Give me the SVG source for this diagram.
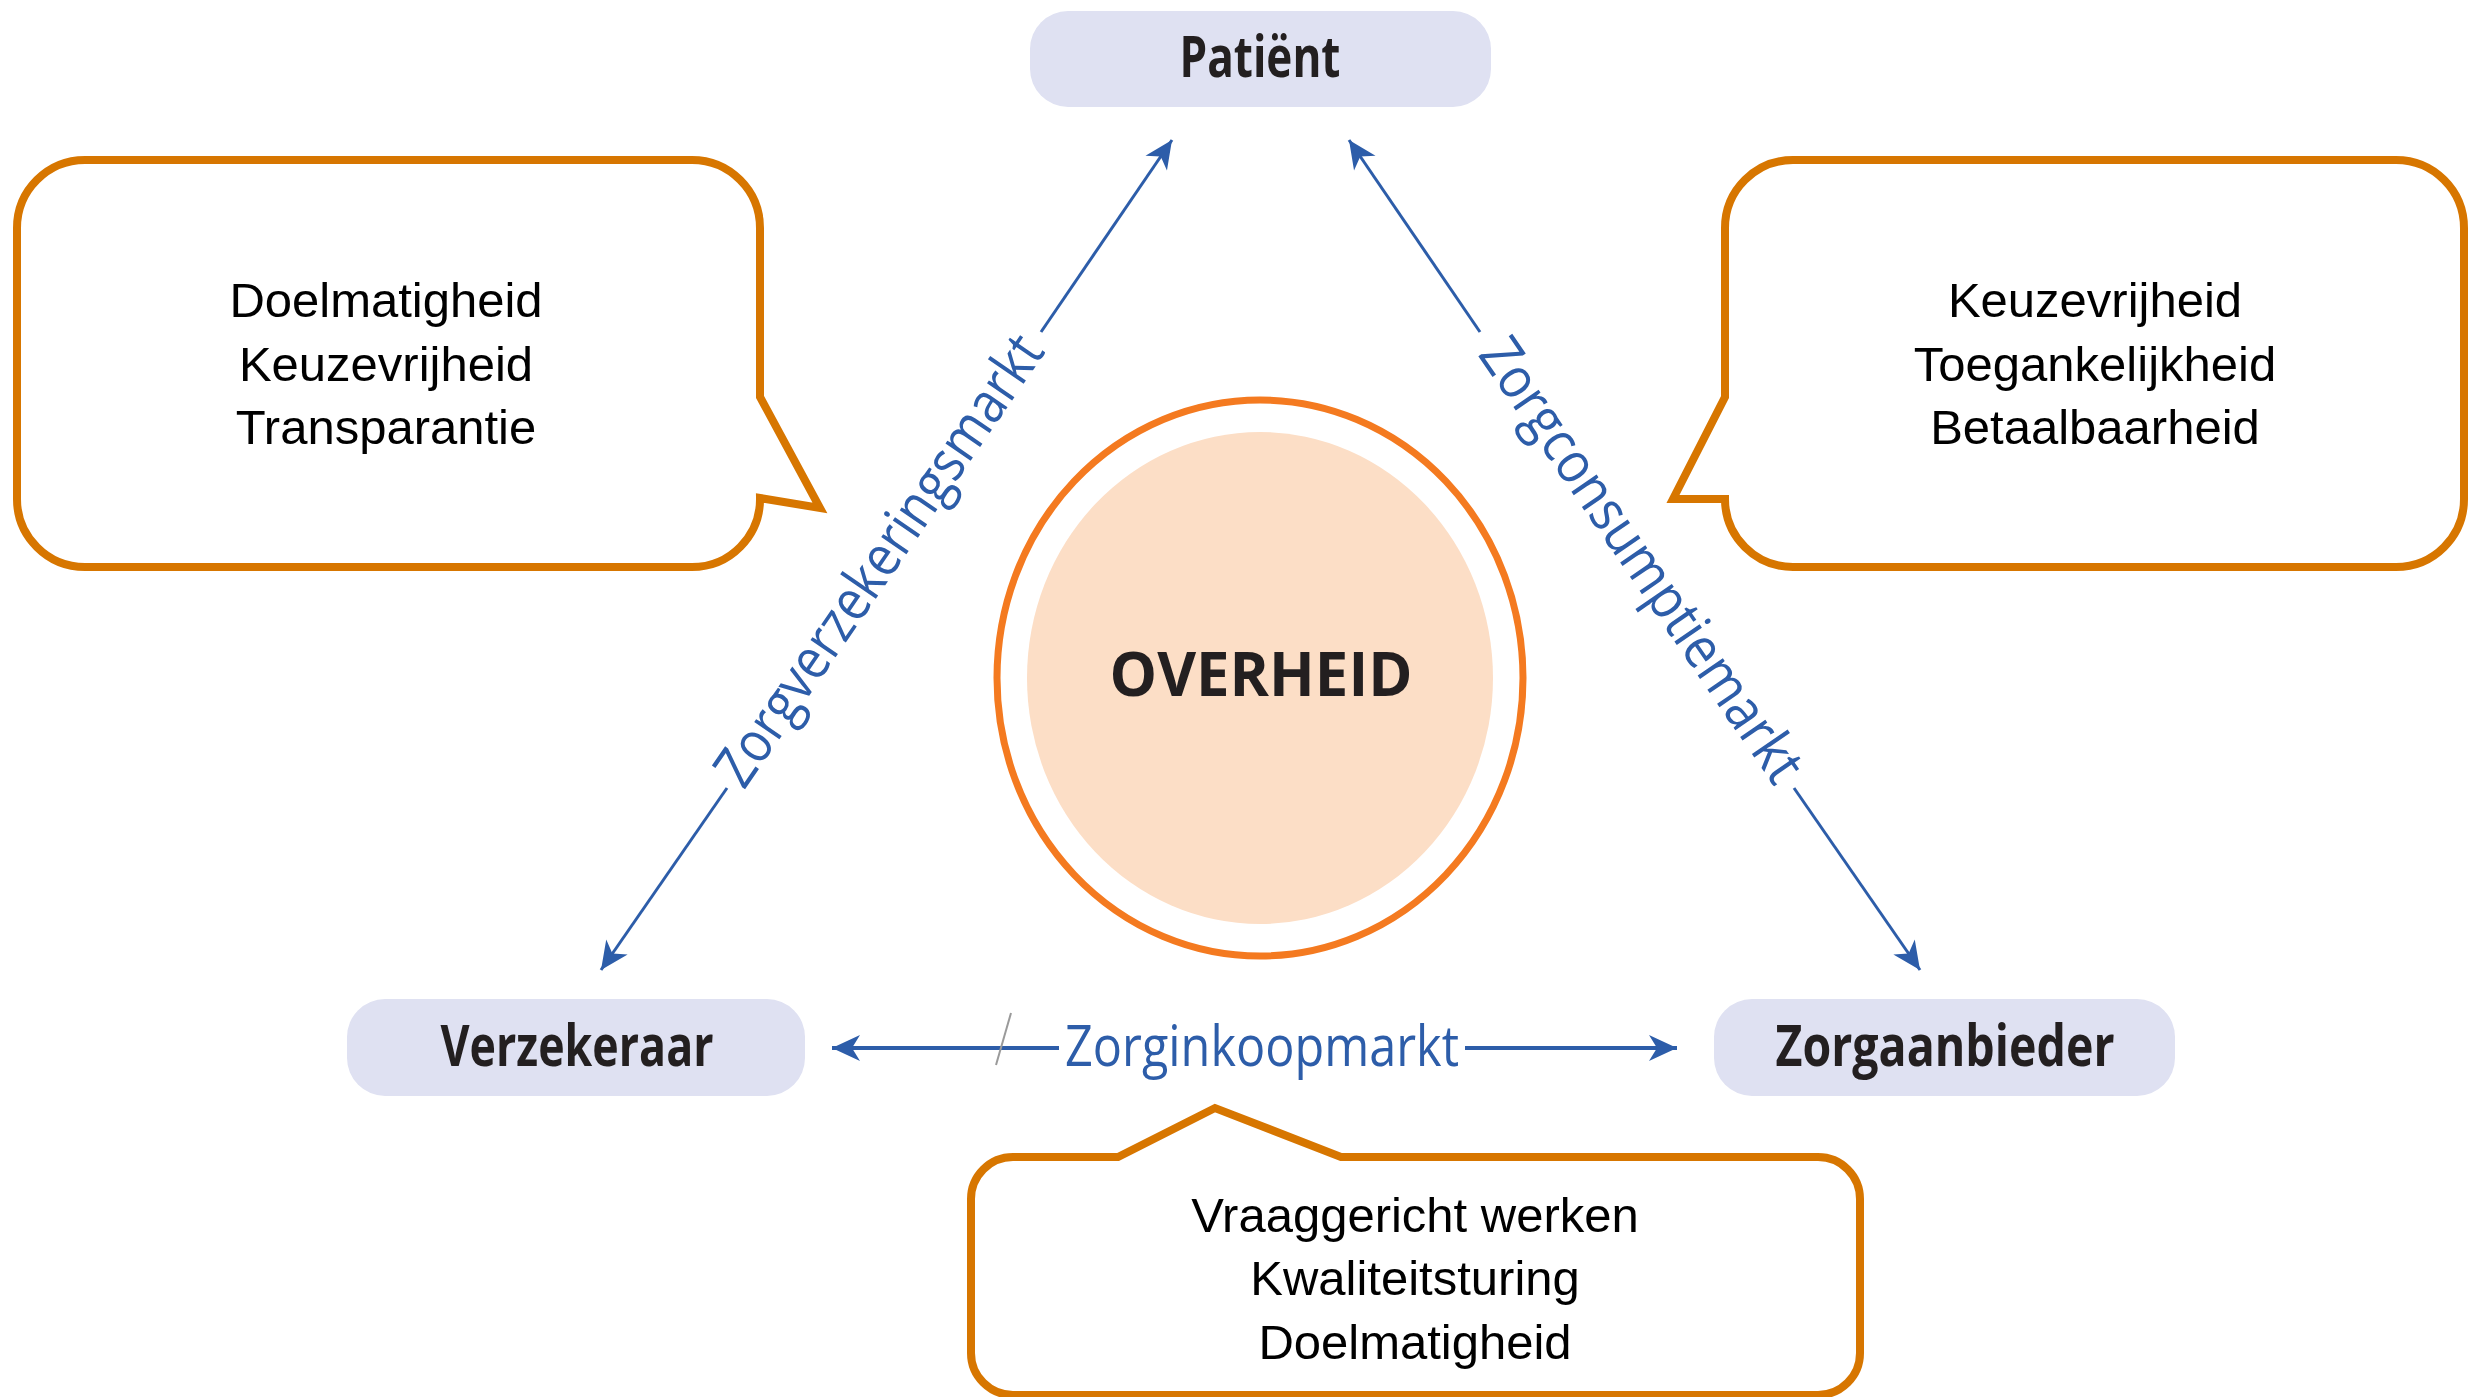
<svg xmlns="http://www.w3.org/2000/svg" width="2481" height="1397" viewBox="0 0 2481 1397">
<style>
.callout{fill:#fff;stroke:#D77600;stroke-width:8;stroke-linejoin:miter}
.ctext{font-family:"Liberation Sans",Arial,sans-serif;font-size:49px;fill:#000;text-anchor:middle}
.node{fill:#DFE1F2}
.ntext{font-family:"Open Sans","Liberation Sans",sans-serif;font-weight:bold;font-size:58px;fill:#231F20;text-anchor:middle}
.conn{stroke:#2D5DA9;fill:none}
.ltext{font-family:"Open Sans","Liberation Sans",sans-serif;font-size:57px;fill:#2D5DA9;text-anchor:middle}
</style>
<defs>
<marker id="ah" viewBox="-30 -15 32 30" refX="0" refY="0" markerWidth="32" markerHeight="30" markerUnits="userSpaceOnUse" orient="auto">
<path d="M0,0 L-28,-13 L-20,0 L-28,13 Z" fill="#2D5DA9"/>
</marker>
</defs>
<rect width="2481" height="1397" fill="#fff"/>

<g id="callout-left">
<path class="callout" d="M85,160 H692 A68 68 0 0 1 760 228 V397 L820 508 L760 498 A68 68 0 0 1 692 567 H85 A68 68 0 0 1 17 499 V228 A68 68 0 0 1 85 160 Z"/>
<text class="ctext" x="386" y="317">Doelmatigheid</text>
<text class="ctext" x="386" y="381">Keuzevrijheid</text>
<text class="ctext" x="386" y="444">Transparantie</text>
</g>

<g id="callout-right">
<path class="callout" d="M1793,160 H2396 A68 68 0 0 1 2464 228 V499 A68 68 0 0 1 2396 567 H1793 A68 68 0 0 1 1725 499 L1673 499 L1725 397 V228 A68 68 0 0 1 1793 160 Z"/>
<text class="ctext" x="2095" y="317">Keuzevrijheid</text>
<text class="ctext" x="2095" y="381">Toegankelijkheid</text>
<text class="ctext" x="2095" y="444">Betaalbaarheid</text>
</g>

<g id="callout-bottom">
<path class="callout" d="M1013,1157 H1118 L1215 1108 L1341 1157 H1818 A42 42 0 0 1 1860 1199 V1353 A42 42 0 0 1 1818 1395 H1013 A42 42 0 0 1 971 1353 V1199 A42 42 0 0 1 1013 1157 Z"/>
<text class="ctext" x="1415" y="1232">Vraaggericht werken</text>
<text class="ctext" x="1415" y="1295">Kwaliteitsturing</text>
<text class="ctext" x="1415" y="1359">Doelmatigheid</text>
</g>

<g id="overheid">
<ellipse cx="1260" cy="678" rx="263" ry="278" fill="#fff" stroke="#F47A20" stroke-width="7"/>
<ellipse cx="1260" cy="678" rx="233" ry="246" fill="#FCDEC6"/>
<text x="1261" y="696" font-family="'Open Sans','Liberation Sans',sans-serif" font-weight="bold" font-size="60" fill="#231F20" text-anchor="middle" textLength="303" lengthAdjust="spacingAndGlyphs">OVERHEID</text>
</g>

<g id="patient">
<rect class="node" x="1030" y="11" width="461" height="96" rx="38" ry="38"/>
<text class="ntext" x="1260" y="77" textLength="161" lengthAdjust="spacingAndGlyphs">Patiënt</text>
</g>

<g id="verzekeraar">
<rect class="node" x="347" y="999" width="458" height="97" rx="38" ry="38"/>
<text class="ntext" x="577" y="1066" textLength="273" lengthAdjust="spacingAndGlyphs">Verzekeraar</text>
</g>

<g id="zorgaanbieder">
<rect class="node" x="1714" y="999" width="461" height="97" rx="38" ry="38"/>
<text class="ntext" x="1945" y="1066" textLength="339" lengthAdjust="spacingAndGlyphs">Zorgaanbieder</text>
</g>

<g id="connectors">
<path class="conn" stroke-width="3" d="M727,788 L601,970" marker-end="url(#ah)"/>
<path class="conn" stroke-width="3" d="M1041,332 L1172,140" marker-end="url(#ah)"/>
<text class="ltext" transform="translate(895,571) rotate(-55.5)" x="0" y="0" textLength="533" lengthAdjust="spacingAndGlyphs">Zorgverzekeringsmarkt</text>
<path class="conn" stroke-width="3" d="M1480,332 L1349,140" marker-end="url(#ah)"/>
<path class="conn" stroke-width="3" d="M1794,788 L1920,970" marker-end="url(#ah)"/>
<text class="ltext" transform="translate(1626,571) rotate(55.5)" x="0" y="0" textLength="525" lengthAdjust="spacingAndGlyphs">Zorgconsumptiemarkt</text>
<path class="conn" stroke-width="4" d="M1059,1048 L832,1048" marker-end="url(#ah)"/>
<path class="conn" stroke-width="4" d="M1465,1048 L1677,1048" marker-end="url(#ah)"/>
<text class="ltext" x="1262" y="1066" textLength="394" lengthAdjust="spacingAndGlyphs">Zorginkoopmarkt</text>
<line x1="1011" y1="1013" x2="996" y2="1065" stroke="#9a9a9a" stroke-width="2"/>
</g>
</svg>
